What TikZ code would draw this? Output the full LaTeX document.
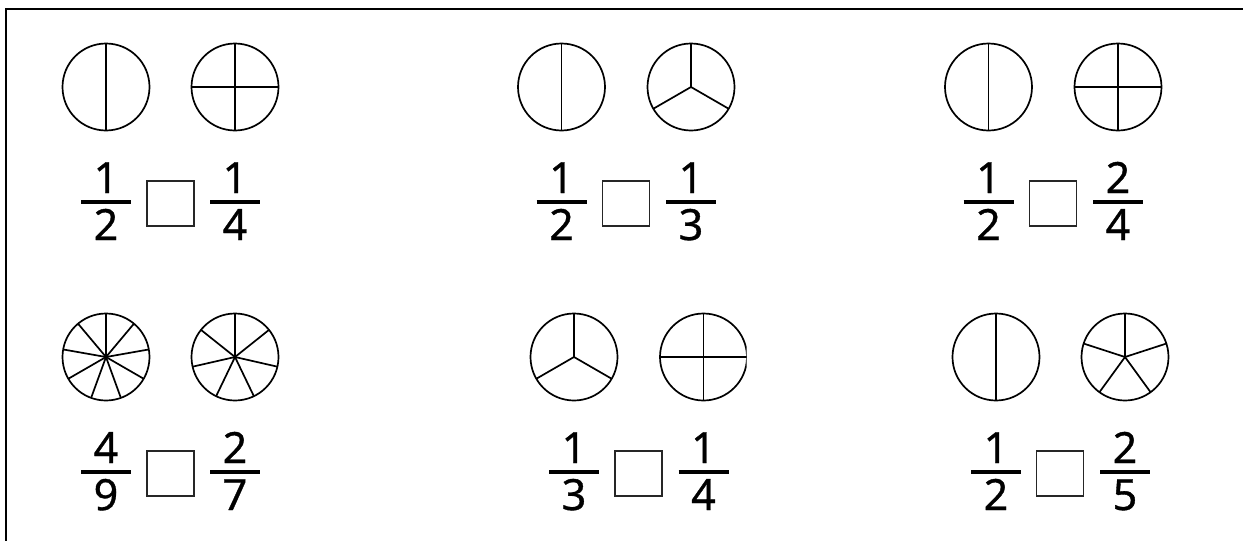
\documentclass[tikz,border=0pt]{standalone}
\usepackage{fontspec}
\setmainfont{Noto Sans}
\newfontfamily\digitfont[FakeBold=0.8]{Noto Sans}
\tikzset{
  frame/.style={line width=2.2pt},
  pie/.style={line width=1.7pt},
  digit/.style={font=\digitfont\fontsize{43}{43}\selectfont, inner sep=0pt, anchor=base},
  blank/.style={draw=black!85, line width=1.6pt, minimum width=47pt, minimum height=45pt, inner sep=0pt},
  fbar/.style={line width=4pt}
}
% circle cut into #3 equal parts
\newcommand{\pie}[3]{%
  \draw[pie] (#1,#2) circle (43.5);
  \foreach \k in {1,...,#3} \draw[pie] (#1,#2) -- ++({-90+\k*360/#3}:43.5);
}
% fraction #4 over #5, bar centred at (#2,#3)
\newcommand{\frc}[5]{%
  \node[digit] (#1n) at (#2,#3-8.7) {#4};
  \node[digit] (#1d) at (#2,#3+38.3) {#5};
  \draw[fbar] (#2-25,#3) -- (#2+25,#3);
}
\begin{document}
\begin{tikzpicture}[x=1pt,y=-1pt]
\useasboundingbox (0,0) rectangle (1243,541);
\draw[frame] (1243,9) -- (6,9) -- (6,541);
\foreach \g/\xa/\xb/\xc/\yc/\na/\da/\nb/\db/\cut in {
    a/106/235/170.5/87/1/2/1/4/1243,
    b/561.5/691/626/87/1/2/1/3/1243,
    c/988.5/1118/1053/87/1/2/2/4/1243,
    d/106/235/170.5/357/4/9/2/7/1243,
    e/574/703.5/638.7/357/1/3/1/4/746.5,
    f/996/1125/1060/357/1/2/2/5/1243}
{
  \begin{scope}
    \clip (0,0) rectangle (\cut,541);
    \pie{\xa}{\yc}{\da}
    \pie{\xb}{\yc}{\db}
  \end{scope}
  \node[blank] (box-\g) at (\xc,\yc+116.6) {};
  \frc{l\g}{\xa}{\yc+114.7}{\na}{\da}
  \frc{r\g}{\xb}{\yc+114.7}{\nb}{\db}
}
\end{tikzpicture}
\end{document}
